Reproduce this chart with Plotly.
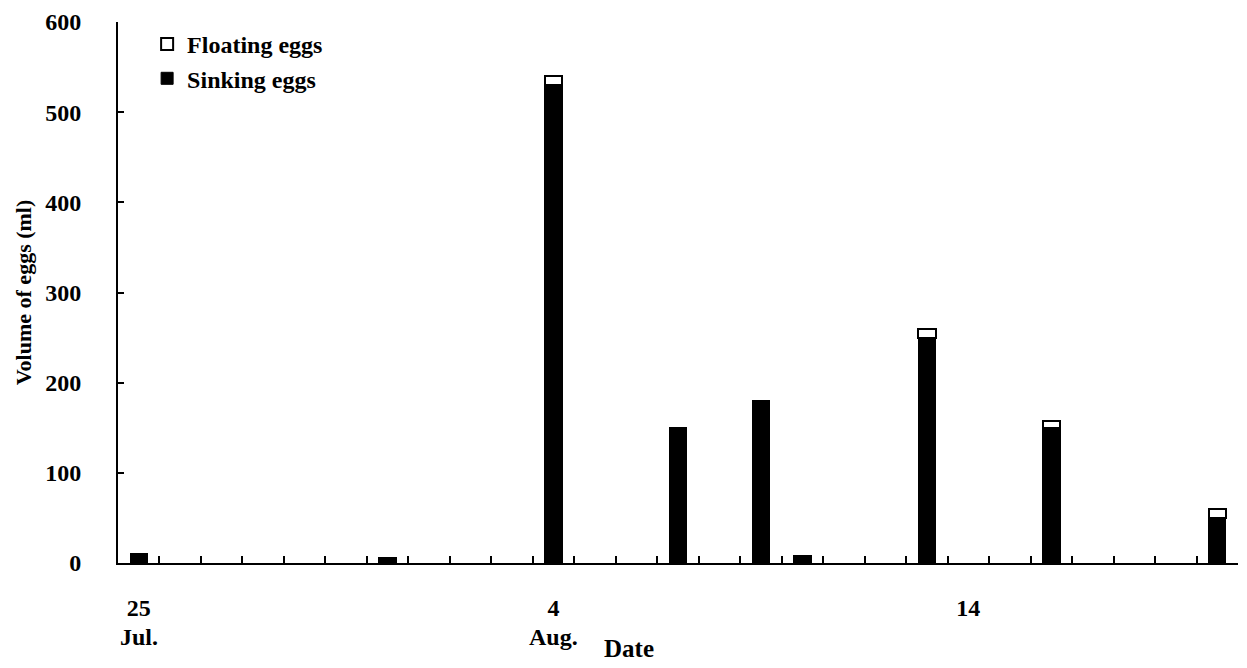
import plotly.graph_objects as go

# Sampling days: 25-31 July, then 1-20 August
days = [str(d) for d in range(25, 32)] + [str(d) for d in range(1, 21)]
day_labels = {"25": "25", "4": "4", "14": "14"}
month_labels = {"25": "Jul.", "4": "Aug."}

# Egg volumes (ml); None = no eggs collected
sinking = {"25": 10, "31": 6, "4": 530, "7": 150, "9": 180,
           "10": 8, "13": 250, "16": 150, "20": 50}
floating = {"4": 10, "13": 10, "16": 7, "20": 10}

sink_vals = [sinking.get(d) for d in days]
float_vals = [floating.get(d) for d in days]

FONT = "Liberation Serif"
FS = 24
BAR_W = 0.42


def bold(size=FS):
    return dict(family=FONT, size=size, color="black", weight="bold")


fig = go.Figure()
fig.add_trace(go.Bar(
    x=days, y=sink_vals, name="Sinking eggs", width=BAR_W,
    marker=dict(color="black", line=dict(color="black", width=1)),
))
fig.add_trace(go.Bar(
    x=days, y=float_vals, name="Floating eggs", width=BAR_W,
    marker=dict(color="white", line=dict(color="black", width=2)),
))

fig.update_layout(
    width=1247, height=668,
    barmode="stack",
    plot_bgcolor="white", paper_bgcolor="white",
    margin=dict(l=118, r=9, t=18, b=105),
    font=bold(),
    showlegend=True,
    legend=dict(
        x=0.026, y=1.0, xanchor="left", yanchor="top",
        traceorder="reversed", bgcolor="rgba(0,0,0,0)",
        font=bold(24), itemwidth=30, tracegroupgap=0,
    ),
    xaxis=dict(
        type="category", categoryorder="array", categoryarray=days,
        range=[-0.5, len(days) - 0.5],
        tickmode="array", tickvals=days,
        ticktext=[day_labels.get(d, "") for d in days],
        tickson="boundaries", ticks="inside", ticklen=7, tickwidth=2,
        tickcolor="black",
        showline=True, linecolor="black", linewidth=2,
        showgrid=False, zeroline=False,
        ticklabelstandoff=22,
        tickfont=bold(),
    ),
    yaxis=dict(
        range=[0, 600], tickvals=[0, 100, 200, 300, 400, 500, 600],
        ticks="inside", ticklen=6, tickwidth=2, tickcolor="black",
        showline=True, linecolor="black", linewidth=2,
        showgrid=False, zeroline=False,
        tickfont=bold(),
        ticklabelstandoff=30,
        title=dict(text="Volume of eggs (ml)", standoff=8, font=bold(22)),
    ),
)

# Month names under the first day of each month
for d, m in month_labels.items():
    fig.add_annotation(
        x=days.index(d), xref="x", y=0, yref="paper", yshift=-89,
        text=m, showarrow=False, font=bold(),
    )

# Axis title for the date axis, just right of the August label
fig.add_annotation(
    x=days.index("6"), xref="x", y=0, yref="paper", yshift=-101, xshift=-8,
    text="Date", showarrow=False, font=bold(25),
)

fig.write_html("out.html")
